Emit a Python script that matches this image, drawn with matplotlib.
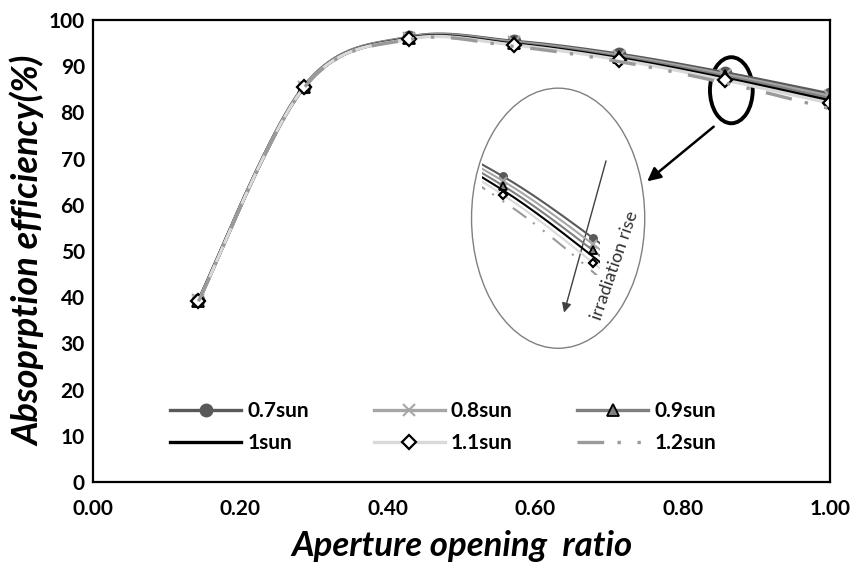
import matplotlib
matplotlib.use("Agg")
import matplotlib.pyplot as plt
import numpy as np
from matplotlib.patches import Ellipse

# aperture ratio (x) and absorption efficiency (%) for each irradiation level
ratio = [0.143, 0.286, 0.429, 0.571, 0.714, 0.857, 1.0]
eff_07 = [39.3, 85.6, 96.3, 95.4, 92.6, 88.6, 84.0]
eff_08 = [39.3, 85.5, 96.2, 95.2, 92.3, 88.2, 83.5]
eff_09 = [39.2, 85.5, 96.1, 95.0, 92.0, 87.8, 83.0]
eff_10 = [39.2, 85.4, 96.0, 94.8, 91.7, 87.4, 82.5]
eff_11 = [39.1, 85.4, 95.9, 94.6, 91.4, 87.0, 82.0]
eff_12 = [39.1, 85.3, 95.8, 94.3, 91.0, 86.4, 80.8]
labels = ["0.7sun", "0.8sun", "0.9sun", "1sun", "1.1sun", "1.2sun"]
xticks = [0.0, 0.2, 0.4, 0.6, 0.8, 1.0]

plt.rcParams['font.family'] = ['Lato', 'DejaVu Sans']


def smooth(x, y, n=30):
    # excel style smoothed line (bezier through the points)
    p = np.column_stack([x, y])
    out = []
    for i in range(len(p) - 1):
        p0 = p[i - 1] if i > 0 else p[i]
        p3 = p[i + 2] if i + 2 < len(p) else p[i + 1]
        c1 = p[i] + (p[i + 1] - p0) / 6
        c2 = p[i + 1] - (p3 - p[i]) / 6
        t = np.linspace(0, 1, n, endpoint=False)[:, None]
        seg = ((1 - t) ** 3 * p[i] + 3 * (1 - t) ** 2 * t * c1
               + 3 * (1 - t) * t ** 2 * c2 + t ** 3 * p[i + 1])
        out.append(seg)
    out.append(p[-1:])
    pts = np.vstack(out)
    marks = [i * n for i in range(len(p))]
    return pts[:, 0], pts[:, 1], marks


styles = [
    dict(color="#595959", marker="o", ms=9, mfc="#595959", mec="#595959"),
    dict(color="#a6a6a6", marker="x", ms=9, mew=1.5),
    dict(color="#7f7f7f", marker="^", ms=9, mfc="#7f7f7f", mec="black", mew=1.3),
    dict(color="black"),
    dict(color="#d9d9d9", marker="D", ms=7, mfc="white", mec="black", mew=1.6),
    dict(color="#9a9a9a", dashes=(8, 4, 1, 5, 1, 5)),
]
series = [eff_07, eff_08, eff_09, eff_10, eff_11, eff_12]

fig = plt.figure(figsize=(8.54, 5.77), dpi=100)
ax = fig.add_axes([0.109, 0.1646, 0.863, 0.8007])

handles = []
for vals, lab, st in zip(series, labels, styles):
    sx, sy, mk = smooth(ratio, vals)
    h, = ax.plot(sx, sy, lw=2.4, label=lab, markevery=mk, **st)
    handles.append(h)

ax.set_xlim(0, 1)
ax.set_ylim(0, 100)
ax.set_xticks(xticks)
ax.set_xticklabels(["%.2f" % v for v in xticks])
ax.set_yticks(range(0, 101, 10))
ax.tick_params(length=0, labelsize=15, pad=6)
for t in ax.get_xticklabels() + ax.get_yticklabels():
    t.set_fontweight("bold")
ax.tick_params(axis="x", pad=12)
for s in ax.spines.values():
    s.set_linewidth(1.6)

ax.set_xlabel("Aperture opening  ratio", fontsize=25, fontweight="bold",
              fontstyle="italic", labelpad=8)
ax.set_ylabel("Absoprption efficiency(%)", fontsize=26, fontweight="bold",
              fontstyle="italic", labelpad=2)

# excel legend reads across rows
order = [0, 3, 1, 4, 2, 5]
ax.legend([handles[i] for i in order], [labels[i] for i in order], ncol=3,
          loc="center", bbox_to_anchor=(0.475, 0.119), frameon=False,
          handlelength=3.4, handletextpad=0.3, columnspacing=3.1,
          labelspacing=0.6, numpoints=1, prop=dict(weight="bold", size=15))

# zoom callout
ax.add_patch(Ellipse((0.866, 84.8), 0.058, 14.3, fill=False, ec="black", lw=2.8))
ax.add_patch(Ellipse((0.631, 57.1), 0.235, 56.3, fill=False, ec="#808080", lw=1))
ax.annotate("", xy=(0.749, 64.7), xytext=(0.845, 77.3),
            arrowprops=dict(arrowstyle="-|>", color="black", lw=1.8, mutation_scale=20))
ax.annotate("", xy=(0.638, 36.1), xytext=(0.697, 70.1),
            arrowprops=dict(arrowstyle="-|>", color="#404040", lw=1, mutation_scale=14))
ax.text(0.708, 46.8, "irradiation rise", rotation=71, fontsize=13, color="#303030",
        ha="center", va="center", rotation_mode="anchor")

ins = fig.add_axes([0.5644, 0.5234, 0.138, 0.2166])
ins.axis("off")
for vals, st in zip(series, styles):
    sx, sy, mk = smooth(ratio, vals)
    st2 = dict(st)
    if "ms" in st2:
        st2["ms"] = st2["ms"] * 0.6
    ins.plot(sx, sy, lw=1.5, markevery=mk, **st2)
ins.set_xlim(0.681, 0.868)
ins.set_ylim(86.2, 94.3)

fig.savefig("out.png", dpi=100)
